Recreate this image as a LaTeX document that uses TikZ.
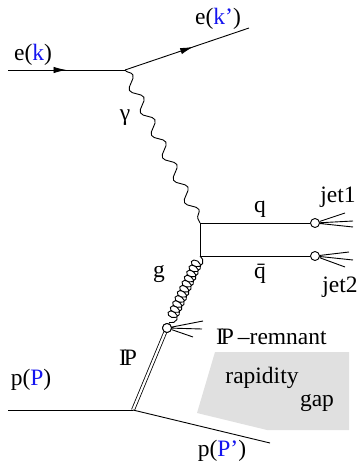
\documentclass[tikz,border=0pt]{standalone}
\usepackage{fontspec}
\setmainfont{Liberation Serif}
\usetikzlibrary{decorations.pathmorphing,decorations.markings,arrows.meta}
\definecolor{kblue}{RGB}{20,20,240}
\definecolor{gapgray}{RGB}{224,224,224}
\newcommand{\Pom}{I\kern-0.13em P}
\tikzset{
  line/.style={line width=0.9pt},
  midarrow/.style={line, postaction={decorate}, decoration={markings, mark=at position #1 with {\arrow{Latex[length=13pt,width=6.5pt]}}}},
  blob/.style={circle, draw, line width=0.9pt, fill=white, inner sep=0pt, minimum size=9pt},
  lbl/.style={inner sep=0pt, font=\fontsize{23.5}{27}\selectfont},
}
\begin{document}
\begin{tikzpicture}[x=1pt,y=-1pt]
\useasboundingbox (0,0) rectangle (363,464);
% gap region
\fill[gapgray] (215,352) -- (349,352) -- (349,430) -- (267,430) -- (197,413) -- cycle;
% coordinates
\coordinate (ein) at (8,70);
\coordinate (v1) at (125,70);
\coordinate (eout) at (249,28);
\coordinate (v2) at (200,223);
\coordinate (v3) at (200,256);
\coordinate (v4) at (133,410);
\coordinate (pin) at (8,410);
\coordinate (pout) at (270,443);
\node[blob] (j1) at (315,223) {};
\node[blob] (j2) at (315,256) {};
\node[blob] (pc) at (167,328) {};
\coordinate (j1a) at (345,213);
\coordinate (j1b) at (353,221);
\coordinate (j1c) at (353,227);
\coordinate (j2a) at (349,252);
\coordinate (j2b) at (353,260);
\coordinate (j2c) at (345,267);
\coordinate (ra) at (203,321);
\coordinate (rb) at (202,329);
\coordinate (rc) at (193,337);
% electron lines
\draw[midarrow=0.5] (ein) -- (v1);
\draw[midarrow=0.55] (v1) -- (eout);
% photon
\draw[line, decorate, decoration={snake, amplitude=5pt, segment length=25pt}] (v1) -- (v2);
% quark lines
\draw[line] (v2) -- (v3);
\draw[line] (v2) -- (j1);
\draw[line] (v3) -- (j2);
\draw[line] (j1) -- (j1a) (j1) -- (j1b) (j1) -- (j1c);
\draw[line] (j2) -- (j2a) (j2) -- (j2b) (j2) -- (j2c);
% gluon
\draw[line, decorate, decoration={coil, aspect=0.8, segment length=5.6pt, amplitude=5.5pt}] (v3) -- (pc);
% pomeron
\draw[line width=0.8pt, double, double distance=2.2pt] (pc) -- (v4);
\node[blob] at (pc) {};
\draw[line] (pc) -- (ra) (pc) -- (rb) (pc) -- (rc);
% protons
\draw[line] (pin) -- (v4);
\draw[line] (v4) -- (pout);
% labels
\node[lbl] (lek) at (33,55) {e(\textcolor{kblue}{k})};
\node[lbl] (lekp) at (218,19) {e(\textcolor{kblue}{k'})};
\node[lbl] (lgam) at (125,118) {γ};
\node[lbl] (lq) at (260,209) {q};
\node[lbl] (lqb) at (260,274) {\=q};
\node[lbl] (ljet1) at (338,197) {jet1};
\node[lbl] (ljet2) at (340,287) {jet2};
\node[lbl] (lg) at (159,274) {g};
\node[lbl, anchor=west] (lrem) at (216,337) {\Pom\,--remnant};
\node[lbl] (lP) at (128,358) {\Pom};
\node[lbl] (lrap) at (262,378) {rapidity};
\node[lbl] (lgap) at (317,403) {gap};
\node[lbl] (lpP) at (31,380) {p(\textcolor{kblue}{P})};
\node[lbl] (lpPp) at (222,451) {p(\textcolor{kblue}{P'})};
\end{tikzpicture}
\end{document}
